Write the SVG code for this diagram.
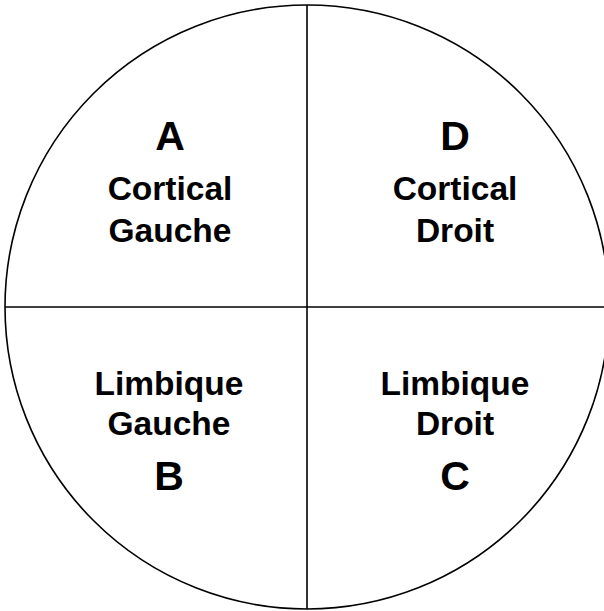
<svg xmlns="http://www.w3.org/2000/svg" width="604" height="611" viewBox="0 0 604 611">
<style>
.t{font-family:"Liberation Sans",Arial,sans-serif;font-weight:bold;fill:#000;text-anchor:middle}
.w{font-size:33.5px}
.l{font-size:41px}
.s{fill:none;stroke:#000;stroke-width:1.6}
</style>
<rect width="604" height="611" fill="#fff"/>
<g id="connectors">
<circle class="s" cx="307" cy="307" r="302"/>
<line class="s" x1="307" y1="5" x2="307" y2="609"/>
<line class="s" x1="5" y1="307" x2="604" y2="307"/>
</g>
<g id="A"><text class="t l" x="170" y="150">A</text><text class="t w" x="170" y="200">Cortical</text><text class="t w" x="170" y="242">Gauche</text></g>
<g id="D"><text class="t l" x="455" y="150">D</text><text class="t w" x="455" y="200">Cortical</text><text class="t w" x="455" y="242">Droit</text></g>
<g id="B"><text class="t w" x="169" y="395">Limbique</text><text class="t w" x="169" y="435">Gauche</text><text class="t l" x="169" y="490">B</text></g>
<g id="C"><text class="t w" x="455" y="395">Limbique</text><text class="t w" x="455" y="435">Droit</text><text class="t l" x="455" y="490">C</text></g>
</svg>
